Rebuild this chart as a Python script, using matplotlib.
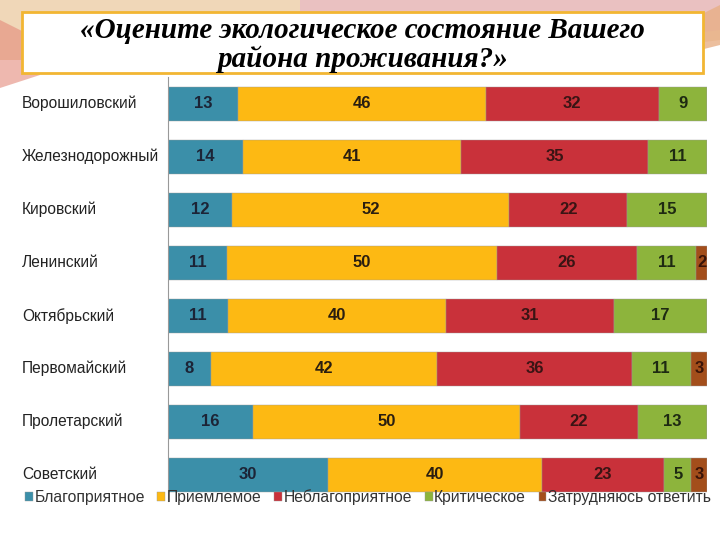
"""Stacked bar chart: ecological state of districts."""

import numpy as np
import matplotlib.pyplot as plt
from matplotlib.patches import Rectangle, Polygon

districts = ['Ворошиловский', 'Железнодорожный', 'Кировский', 'Ленинский',
             'Октябрьский', 'Первомайский', 'Пролетарский', 'Советский']
categories = ['Благоприятное', 'Приемлемое', 'Неблагоприятное',
              'Критическое', 'Затрудняюсь ответить']

favorable = [13, 14, 12, 11, 11, 8, 16, 30]
acceptable = [46, 41, 52, 50, 40, 42, 50, 40]
unfavorable = [32, 35, 22, 26, 31, 36, 22, 23]
critical = [9, 11, 15, 11, 17, 11, 13, 5]
hard_to_say = [0, 0, 0, 2, 0, 3, 0, 3]

colors = ['#3B8FA9', '#FDB913', '#C9313A', '#8DB43C', '#A34E1B']
label_colors = ['#1C2436', '#2A1E10', '#3A1414', '#1E2A12', '#3A1408']

plt.rcParams['font.family'] = ['Liberation Sans', 'DejaVu Sans']

fig = plt.figure(figsize=(7.2, 5.4), dpi=100)

# background decoration at the top
def fig_poly(pts, color, alpha=1.0):
    pts = [[x / 720, 1 - yy / 540] for x, yy in pts]
    fig.patches.append(Polygon(pts, closed=True, transform=fig.transFigure,
                               color=color, alpha=alpha, zorder=-2, linewidth=0))

fig_poly([[0, 0], [720, 0], [720, 40], [560, 60], [0, 60]], '#EAC79A', 0.7)
fig_poly([[300, 0], [720, 0], [720, 30], [600, 45], [300, 20]], '#E9BCC4', 0.8)
fig_poly([[0, 20], [40, 40], [40, 75], [0, 88]], '#E38A7A', 0.6)
fig_poly([[690, 20], [720, 5], [720, 45], [700, 50]], '#E8AF86', 0.8)

ax = fig.add_axes([0.233, 0.072, 0.749, 0.785])

data = np.array([favorable, acceptable, unfavorable, critical, hard_to_say], dtype=float)
totals = data.sum(axis=0)
frac = data / totals

y = np.arange(len(districts))
left = np.zeros(len(districts))
for i, cat in enumerate(categories):
    ax.barh(y, frac[i], left=left, height=0.64, color=colors[i], label=cat,
            edgecolor='#9a9a9a', linewidth=0.3)
    for j in range(len(districts)):
        v = data[i, j]
        if v > 0:
            ax.text(left[j] + frac[i, j] / 2, y[j], f'{int(v)}', ha='center', va='center',
                    fontsize=12, fontweight='bold', color=label_colors[i])
    left += frac[i]

ax.set_xlim(0, 1)
ax.set_ylim(len(districts) - 0.5, -0.5)
ax.set_yticks(y)
ax.set_yticklabels([])
ax.set_xticks([])
ax.tick_params(axis='y', length=0)
for s in ['top', 'right', 'bottom']:
    ax.spines[s].set_visible(False)
ax.spines['left'].set_color('#999999')
ax.patch.set_alpha(0)

for j, name in enumerate(districts):
    yf = ax.transData.transform((0, y[j]))[1] / fig.bbox.height
    fig.text(22 / 720, yf, name, ha='left', va='center', fontsize=11.2, color='#222222')

fig.legend(loc='center left', bbox_to_anchor=(0.026, 0.079), ncol=5, frameon=False,
           fontsize=11.3, handlelength=0.5, handleheight=0.5, handletextpad=0.1,
           columnspacing=0.8, borderaxespad=0, labelcolor='#333333')

# title box
fig.patches.append(Rectangle((22 / 720, 1 - 73 / 540), 681 / 720, 61 / 540,
                             transform=fig.transFigure, facecolor='white',
                             edgecolor='#F2B632', linewidth=2, zorder=1))
fig.text(0.504, 1 - 45 / 540, '«Оцените экологическое состояние Вашего\nрайона проживания?»',
         ha='center', va='center', fontsize=21, style='italic', fontweight='bold',
         family=['Liberation Serif', 'DejaVu Serif'], linespacing=1.08, zorder=2)

fig.savefig('out.png', dpi=100)
